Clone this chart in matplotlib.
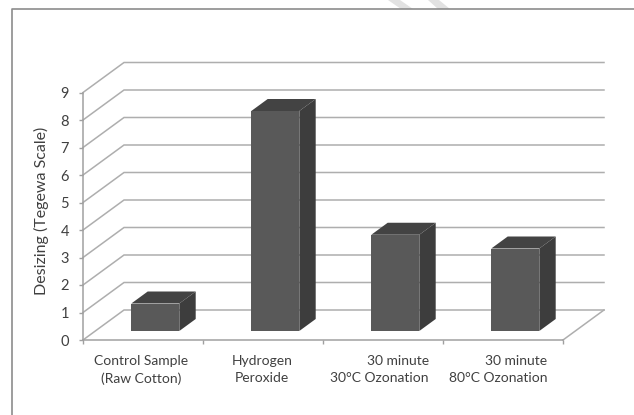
import matplotlib
matplotlib.use('Agg')
import matplotlib.pyplot as plt
from matplotlib.lines import Line2D
from matplotlib.patches import Polygon

plt.rcParams['font.family'] = ['Lato', 'DejaVu Sans']

labels = ['Control Sample\n(Raw Cotton)', 'Hydrogen\nPeroxide',
          '30 minute\n30°C Ozonation', '30 minute\n80°C Ozonation']
label_align = ['center', 'center', 'right', 'right']
label_x = [0.483, 1.49, 2.47, 3.46]
values = [1, 8, 3.5, 3]
yticks = list(range(10))
ylabel = 'Desizing (Tegewa Scale)'

W, H = 634, 415
# plot box in pixels
left, right, y0, y9 = 83, 563, 340, 92.5
# depth of the floor in pixels
DEPTH_X, DEPTH_Y = 41, 30
unit_x = (right - left) / 4
unit_y = (y0 - y9) / 9
ddx = DEPTH_X / unit_x
ddy = DEPTH_Y / unit_y
bar_w = 0.4
front, back = 0.3, 0.7

GRID = '#aeaeae'
AXIS = '#a0a0a0'
TEXT = '#404040'

fig = plt.figure(figsize=(W / 100, H / 100), dpi=100, facecolor='white')
ax = fig.add_axes([left / W, 1 - y0 / H, (right - left) / W, (y0 - y9) / H])
ax.set_xlim(0, 4)
ax.set_ylim(0, 9)
ax.patch.set_visible(False)

# gridlines on the side wall and back wall
for v in yticks:
    ax.plot([0, ddx, 4 + ddx], [v, v + ddy, v + ddy], color=GRID, lw=1.1,
            clip_on=False, zorder=1, solid_joinstyle='miter')
# floor edges
ax.plot([4, 4 + ddx], [0, ddy], color=GRID, lw=1.1, clip_on=False, zorder=1)

# bars: front face, then top and side faces pushed back by the depth
for i, v in enumerate(values):
    x0 = i + 0.5 - bar_w / 2 + front * ddx
    x1 = x0 + bar_w
    base = front * ddy
    d = (back - front)
    ax.bar(x0, v, width=bar_w, bottom=base, align='edge', color='#595959',
           edgecolor='none', clip_on=False, zorder=3)
    top = base + v
    ax.fill([x0, x1, x1 + d * ddx, x0 + d * ddx],
            [top, top, top + d * ddy, top + d * ddy],
            color='#434343', lw=0, clip_on=False, zorder=3)
    ax.fill([x1, x1 + d * ddx, x1 + d * ddx, x1],
            [base, base + d * ddy, top + d * ddy, top],
            color='#3d3d3d', lw=0, clip_on=False, zorder=3)

for s in ['top', 'right']:
    ax.spines[s].set_visible(False)
for s in ['left', 'bottom']:
    ax.spines[s].set_color(AXIS)
    ax.spines[s].set_linewidth(1.1)

ax.set_yticks(yticks)
ax.set_xticks(range(5))
ax.set_xticklabels([])
ax.tick_params(axis='y', length=3, width=1, color=AXIS, labelcolor=TEXT,
               labelsize=10.5, pad=7)
ax.tick_params(axis='x', length=3, width=1, color=AXIS)
ax.set_ylabel(ylabel, fontsize=11.5, color=TEXT)
ax.yaxis.set_label_coords(-34 / (right - left), 0.52)

for x, lab, al in zip(label_x, labels, label_align):
    ax.annotate(lab, (x, 0), xytext=(0, -10.5), textcoords='offset points',
                ha='center', va='top', multialignment=al, fontsize=10,
                color=TEXT, linespacing=1.55, annotation_clip=False)

# frame of the embedded chart, open on the right and at the bottom
fig.add_artist(Line2D([11.5 / W, 11.5 / W, 1], [0, 1 - 9.5 / H, 1 - 9.5 / H],
                      color='#8c8c8c', lw=1.2))

# faint stamp strokes above the frame
for pts in [[(388, 0), (400, 0), (413, 9), (401, 9)],
            [(428, 0), (439, 0), (450, 9), (438, 9)]]:
    fig.add_artist(Polygon([(x / W, 1 - y / H) for x, y in pts], closed=True,
                           transform=fig.transFigure, facecolor='#e2e2e2',
                           edgecolor='none'))

fig.savefig('out.png', dpi=100)
